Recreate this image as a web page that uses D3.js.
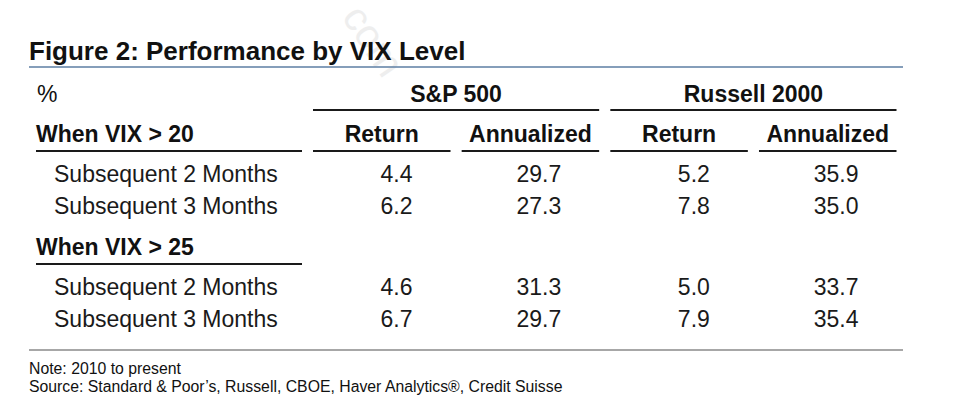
<!DOCTYPE html>
<html>
<head>
<meta charset="utf-8">
<script src="https://cdn.jsdelivr.net/npm/d3@7"></script>
<style>
  html, body { margin: 0; padding: 0; background: #fff; }
  svg { display: block; font-family: "Liberation Sans", Arial, Helvetica, sans-serif; }
</style>
</head>
<body>
<div id="chart"></div>
<script>
// ---- data ----
const title = "Figure 2: Performance by VIX Level";
const unitLabel = "%";
const indices = ["S&P 500", "Russell 2000"];
const measures = ["Return", "Annualized"];
const groups = ["When VIX > 20", "When VIX > 25"];
const rowLabels = ["Subsequent 2 Months", "Subsequent 3 Months"];
const spReturn = [4.4, 6.2, 4.6, 6.7];
const spAnnualized = [29.7, 27.3, 31.3, 29.7];
const rutReturn = [5.2, 7.8, 5.0, 7.9];
const rutAnnualized = [35.9, 35.0, 33.7, 35.4];
const notes = ["Note: 2010 to present",
  "Source: Standard & Poor\u2019s, Russell, CBOE, Haver Analytics\u00AE, Credit Suisse"];
const watermark = "com";

// ---- layout ----
const W = 960, H = 420;
const svg = d3.select("#chart").append("svg").attr("width", W).attr("height", H);

// faint watermark
svg.append("text")
  .attr("transform", "translate(341,17) rotate(56)")
  .attr("font-size", 40).attr("fill", "#eeeeee")
  .text(watermark);

const columns = [];
indices.forEach((ix, i) => measures.forEach((m, j) => columns.push({ index: ix, measure: m, key: i + "-" + j })));
const seriesValues = [spReturn, spAnnualized, rutReturn, rutAnnualized];

const x = d3.scaleBand().domain(columns.map(c => c.key)).range([313, 896.5]).paddingInner(0.075).paddingOuter(0);
const labelX0 = 36, labelX1 = 302;
const fmt = d3.format(".1f");

// Title
svg.append("text").attr("x", 29).attr("y", 60)
  .attr("font-size", 26).attr("font-weight", "bold").attr("fill", "#111")
  .text(title);
svg.append("line").attr("x1", 29).attr("x2", 903).attr("y1", 67).attr("y2", 67)
  .attr("stroke", "#5d7ea3").attr("stroke-width", 1.5);

// header row 1
const y0 = 102;
svg.append("text").attr("x", 37).attr("y", y0).attr("font-size", 23).attr("fill", "#111").text(unitLabel);
indices.forEach((ix, i) => {
  const a = x(i + "-0"), b = x(i + "-1") + x.bandwidth();
  svg.append("text").attr("x", (a + b) / 2).attr("y", y0).attr("text-anchor", "middle")
    .attr("font-size", 23).attr("font-weight", "bold").attr("fill", "#111").text(ix);
  svg.append("line").attr("x1", a).attr("x2", b).attr("y1", 110).attr("y2", 110)
    .attr("stroke", "#1a1a1a").attr("stroke-width", 2);
});

// rows
const rowStep = 32, groupGapBefore = 41, groupGapAfter = 40;
let yy = y0;
groups.forEach((g, gi) => {
  yy += groupGapBefore - (gi === 0 ? 1 : 0);
  const gy = yy;
  svg.append("text").attr("x", 36).attr("y", gy).attr("font-size", 23).attr("font-weight", "bold")
    .attr("fill", "#111").text(g);
  svg.append("line").attr("x1", labelX0).attr("x2", labelX1).attr("y1", gy + 9).attr("y2", gy + 9)
    .attr("stroke", "#1a1a1a").attr("stroke-width", 2);
  if (gi === 0) {
    columns.forEach(c => {
      svg.append("text").attr("x", x(c.key) + x.bandwidth() / 2).attr("y", gy).attr("text-anchor", "middle")
        .attr("font-size", 23).attr("font-weight", "bold").attr("fill", "#111").text(c.measure);
      svg.append("line").attr("x1", x(c.key)).attr("x2", x(c.key) + x.bandwidth())
        .attr("y1", gy + 9).attr("y2", gy + 9).attr("stroke", "#1a1a1a").attr("stroke-width", 2);
    });
  }
  yy += groupGapAfter - rowStep;
  rowLabels.forEach((r, ri) => {
    yy += rowStep;
    const idx = gi * rowLabels.length + ri;
    svg.append("text").attr("x", 54).attr("y", yy).attr("font-size", 23).attr("fill", "#1a1a1a").text(r);
    columns.forEach((c, ci) => {
      svg.append("text").attr("x", x(c.key) + x.bandwidth() - 38).attr("y", yy)
        .attr("text-anchor", "end").attr("font-size", 23).attr("fill", "#1a1a1a")
        .text(fmt(seriesValues[ci][idx]));
    });
  });
});

// bottom rule
svg.append("line").attr("x1", 29).attr("x2", 903).attr("y1", yy + 23).attr("y2", yy + 23)
  .attr("stroke", "#8a8a8a").attr("stroke-width", 1.5);

notes.forEach((n, i) => {
  svg.append("text").attr("x", 29).attr("y", yy + 47 + i * 18).attr("font-size", 15.8)
    .attr("fill", "#111").text(n);
});
</script>
</body>
</html>
